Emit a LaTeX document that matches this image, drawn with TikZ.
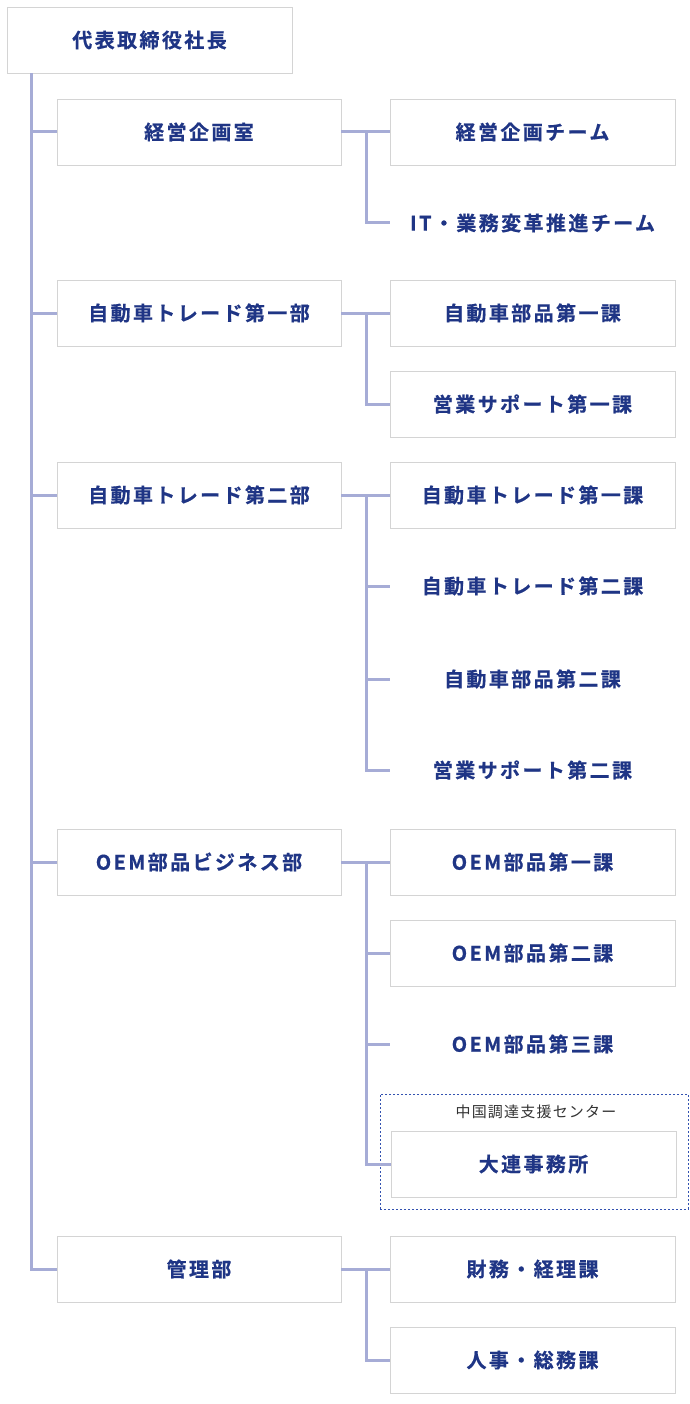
\documentclass[tikz,border=0pt]{standalone}
\usepackage{fontspec}
\newfontfamily\jpb[LetterSpace=12, FakeBold=0.6]{Noto Sans CJK JP Bold}
\newfontfamily\jpr[LetterSpace=8]{Noto Sans CJK JP}
\definecolor{navy}{HTML}{1F3585}
\definecolor{linec}{HTML}{A6ACD6}
\definecolor{boxline}{HTML}{D4D4D4}
\definecolor{dashc}{HTML}{3352B0}
\begin{document}
\begin{tikzpicture}[x=1pt,y=-1pt,
  base/.style={minimum height=66pt, inner sep=0pt, fill=white, text=navy,
     font=\jpb\fontsize{20}{22}\selectfont},
  boxv/.style={base, draw=boxline, line width=0.8pt},
  boxi/.style={base},
  lone/.style={minimum width=284pt},
  ltwo/.style={minimum width=285pt},
  conn/.style={draw=linec, line width=3pt},
]
\useasboundingbox (0,0) rectangle (689,1404);
\fill[white] (0,0) rectangle (689,1404);

% dashed group frame
\node[draw=dashc, line width=0.9pt, dash pattern=on 2pt off 2pt, minimum width=308pt, minimum height=115pt, inner sep=0pt] (grp) at (534,1151.5) {};
\node[text=black!80, font=\jpr\fontsize{15}{17}\selectfont] (grplabel) at (536,1112) {中国調達支援センター};

% top
\node[boxv, minimum width=285pt] (ceo) at (149.5,40) {代表取締役社長};

% level 1
\node[boxv, lone] (d1) at (199,132) {経営企画室};
\node[boxv, lone] (d2) at (199,313) {自動車トレード第一部};
\node[boxv, lone] (d3) at (199,495) {自動車トレード第二部};
\node[boxv, lone] (d4) at (199,862) {OEM部品ビジネス部};
\node[boxv, lone] (d5) at (199,1269) {管理部};

% level 2
\node[boxv, ltwo] (s11) at (532.5,132) {経営企画チーム};
\node[boxi, ltwo] (s12) at (532.5,223) {IT・業務変革推進チーム};
\node[boxv, ltwo] (s21) at (532.5,313) {自動車部品第一課};
\node[boxv, ltwo] (s22) at (532.5,404) {営業サポート第一課};
\node[boxv, ltwo] (s31) at (532.5,495) {自動車トレード第一課};
\node[boxi, ltwo] (s32) at (532.5,586) {自動車トレード第二課};
\node[boxi, ltwo] (s33) at (532.5,679) {自動車部品第二課};
\node[boxi, ltwo] (s34) at (532.5,770) {営業サポート第二課};
\node[boxv, ltwo] (s41) at (532.5,862) {OEM部品第一課};
\node[boxv, ltwo] (s42) at (532.5,953) {OEM部品第二課};
\node[boxi, ltwo] (s43) at (532.5,1044) {OEM部品第三課};
\node[boxv, ltwo] (s44) at (533.5,1164) {大連事務所};
\node[boxv, ltwo] (s51) at (532.5,1269) {財務・経理課};
\node[boxv, ltwo] (s52) at (532.5,1360) {人事・総務課};

% trunk connectors
\foreach \d in {d1,d2,d3,d4,d5}
  \draw[conn] ([xshift=25pt]ceo.south west) |- (\d.west);

% branch connectors
\foreach \d/\s in {d1/s11,d1/s12,d2/s21,d2/s22,d3/s31,d3/s32,d3/s33,d3/s34,
                   d4/s41,d4/s42,d4/s43,d4/s44,d5/s51,d5/s52}
  \draw[conn] (\d.east) -- ++(25,0) |- (\s.west);
\end{tikzpicture}
\end{document}
